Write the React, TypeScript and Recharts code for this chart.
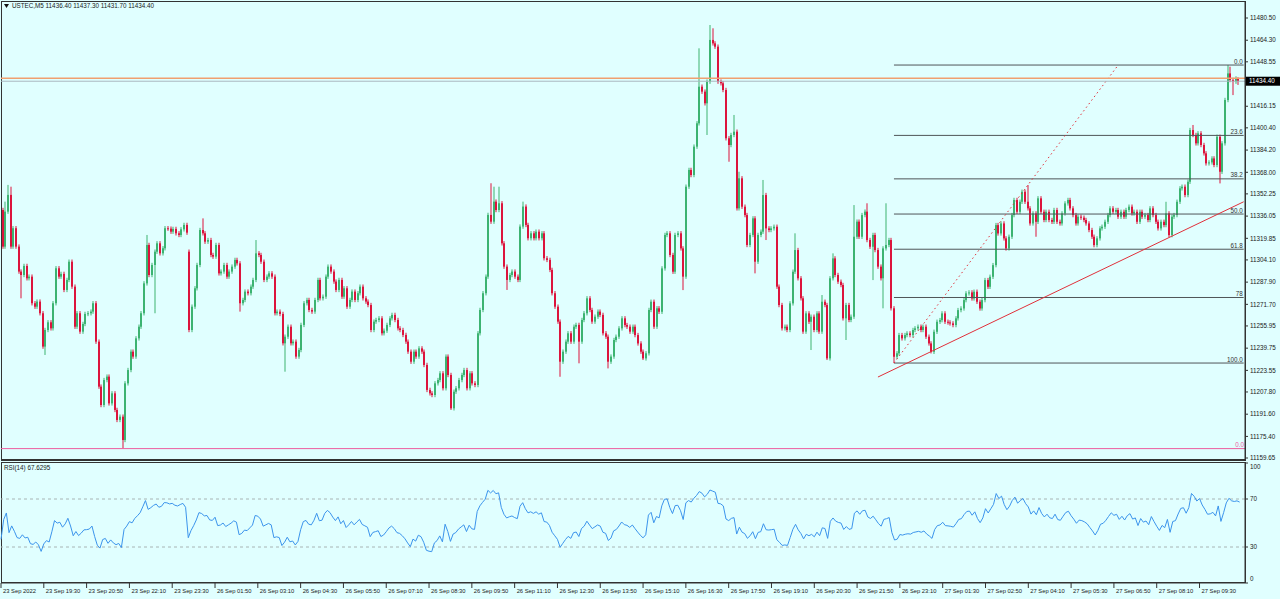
import React from 'react';
import { ComposedChart, Bar, XAxis, YAxis, ReferenceLine, LineChart, Line } from 'recharts';

// ---------- DATA ----------
const closes: number[] = [
  11313.8, 11339.3, 11351.5, 11313.8, 11327.2, 11313.8, 11295.6, 11293.1, 11299.7, 11290.7,
  11291.9, 11272.5, 11270.0, 11273.7, 11265.2, 11240.9, 11253.0, 11258.6, 11254.2, 11272.5,
  11298.0, 11291.9, 11293.9, 11282.2, 11289.5, 11302.8, 11284.6, 11255.4, 11265.2, 11251.8,
  11257.4, 11264.7, 11265.2, 11266.4, 11272.5, 11244.5, 11211.7, 11198.3, 11216.5, 11219.0,
  11199.5, 11206.8, 11194.7, 11187.4, 11189.8, 11172.8, 11214.1, 11223.8, 11237.2, 11233.6,
  11246.9, 11255.4, 11265.2, 11287.0, 11315.0, 11293.1, 11300.4, 11310.1, 11316.2, 11308.9,
  11312.6, 11327.2, 11326.9, 11324.7, 11326.7, 11323.5, 11322.3, 11326.4, 11329.6, 11324.0,
  11253.0, 11270.0, 11283.4, 11300.4, 11325.9, 11323.5, 11317.4, 11318.6, 11307.7, 11306.5,
  11315.0, 11294.3, 11295.6, 11300.4, 11291.9, 11295.6, 11299.2, 11304.1, 11301.6, 11272.5,
  11274.9, 11281.0, 11279.8, 11284.6, 11289.5, 11308.9, 11307.7, 11302.8, 11289.5, 11291.9,
  11294.3, 11291.9, 11265.2, 11266.4, 11264.7, 11243.3, 11248.1, 11255.4, 11243.3, 11244.5,
  11233.6, 11238.4, 11256.7, 11272.5, 11274.9, 11267.6, 11266.4, 11274.9, 11289.5, 11276.1,
  11277.3, 11291.9, 11299.2, 11295.6, 11288.3, 11282.2, 11289.5, 11277.3, 11283.4, 11270.0,
  11274.9, 11281.0, 11274.9, 11279.8, 11284.6, 11276.1, 11273.7, 11271.2, 11253.0, 11259.1,
  11260.3, 11261.5, 11250.6, 11252.5, 11256.7, 11261.5, 11264.0, 11260.3, 11254.2, 11253.0,
  11249.4, 11244.5, 11237.2, 11229.9, 11237.2, 11233.6, 11239.6, 11237.2, 11227.5, 11209.3,
  11206.8, 11205.6, 11214.1, 11216.5, 11221.4, 11210.5, 11233.6, 11220.2, 11195.9, 11208.0,
  11210.5, 11216.5, 11220.2, 11223.8, 11210.5, 11221.4, 11214.1, 11212.9, 11250.6, 11267.6,
  11279.8, 11291.9, 11336.9, 11332.0, 11346.6, 11340.5, 11345.4, 11316.2, 11299.2, 11289.5,
  11293.1, 11295.6, 11291.9, 11289.5, 11328.4, 11343.0, 11329.6, 11319.9, 11323.5, 11319.9,
  11324.7, 11319.9, 11323.5, 11305.3, 11304.1, 11296.8, 11279.8, 11270.0, 11259.1, 11229.9,
  11237.2, 11244.5, 11250.6, 11244.5, 11255.4, 11256.7, 11244.5, 11260.3, 11265.2, 11276.1,
  11267.6, 11259.1, 11262.7, 11266.4, 11264.0, 11250.6, 11248.1, 11229.9, 11233.6, 11245.7,
  11248.1, 11254.2, 11261.5, 11256.6, 11255.4, 11251.8, 11255.4, 11249.3, 11243.2, 11237.2,
  11232.3, 11236.0, 11267.6, 11273.6, 11255.4, 11268.8, 11266.3, 11297.9, 11322.3, 11323.5,
  11307.7, 11295.5, 11322.3, 11323.5, 11312.5, 11291.9, 11357.5, 11369.7, 11366.0, 11386.7,
  11403.7, 11430.4, 11426.8, 11418.3, 11434.1, 11464.5, 11462.0, 11459.6, 11434.1, 11432.9,
  11428.0, 11392.8, 11387.9, 11395.2, 11397.6, 11341.7, 11363.6, 11342.9, 11336.8, 11315.0,
  11322.3, 11334.4, 11302.8, 11322.3, 11324.7, 11351.4, 11327.1, 11325.9, 11327.1, 11328.3,
  11284.6, 11271.2, 11254.2, 11255.4, 11253.0, 11272.4, 11295.5, 11311.3, 11290.7, 11276.1,
  11251.8, 11265.1, 11259.0, 11262.7, 11253.0, 11265.1, 11251.8, 11273.6, 11271.2, 11232.3,
  11290.7, 11305.2, 11293.1, 11288.2, 11285.8, 11261.5, 11271.2, 11260.3, 11262.7, 11321.0,
  11332.0, 11321.0, 11336.8, 11339.3, 11318.6, 11313.7, 11322.3, 11311.3, 11299.2, 11290.7,
  11312.5, 11315.0, 11318.6, 11268.8, 11233.5, 11236.0, 11249.3, 11246.9, 11249.3, 11250.5,
  11249.3, 11253.0, 11254.2, 11255.4, 11253.0, 11255.4, 11248.1, 11243.2, 11237.1, 11251.7,
  11259.0, 11260.2, 11265.1, 11259.0, 11258.5, 11257.8, 11256.6, 11261.5, 11267.5, 11268.7,
  11274.8, 11279.7, 11280.4, 11276.0, 11280.9, 11273.6, 11268.7, 11274.8, 11289.4, 11284.5,
  11291.8, 11300.3, 11329.5, 11323.4, 11330.7, 11319.8, 11312.5, 11321.0, 11336.8, 11347.8,
  11339.2, 11346.5, 11353.8, 11346.5, 11341.7, 11330.7, 11338.0, 11331.9, 11349.0, 11339.2,
  11333.2, 11339.2, 11333.2, 11331.9, 11340.5, 11331.9, 11330.7, 11338.0, 11345.3, 11347.8,
  11341.7, 11336.8, 11330.7, 11335.6, 11334.9, 11333.2, 11330.7, 11325.9, 11321.0, 11314.9,
  11319.8, 11327.1, 11328.3, 11331.9, 11336.8, 11341.7, 11339.2, 11340.5, 11335.6, 11339.2,
  11335.6, 11340.5, 11342.9, 11338.0, 11339.2, 11331.9, 11339.2, 11335.6, 11336.8, 11333.2,
  11341.7, 11336.8, 11331.9, 11327.1, 11331.9, 11329.5, 11338.0, 11322.2, 11335.6, 11336.8,
  11346.5, 11356.3, 11357.5, 11351.4, 11361.1, 11398.8, 11395.2, 11389.1, 11396.4, 11387.9,
  11381.8, 11374.5, 11375.2, 11378.1, 11373.3, 11393.9, 11368.4, 11389.1, 11420.7, 11440.1,
  11435.3, 11434.1, 11436.4, 11434.4,
];
const firstOpen = 11340.5;
const openGaps: [number, number][] = [[70, 11310.1]];
const highMarks: [number, number][] = [
  [1, 11346.6], [2, 11358.8], [3, 11357.5], [54, 11322.3], [75, 11334.4], [95, 11318.6],
  [183, 11360.0], [184, 11357.5], [186, 11357.5], [195, 11346.6], [261, 11458.4], [265, 11475.4],
  [266, 11473.0], [274, 11409.8], [276, 11368.4], [285, 11362.4], [297, 11323.5], [307, 11278.5],
  [311, 11308.9], [319, 11344.1], [324, 11345.4], [331, 11345.4], [384, 11358.7], [436, 11346.5],
  [446, 11402.5], [459, 11446.2], [460, 11445.0], [463, 11437.3],
];
const lowMarks: [number, number][] = [
  [7, 11276.1], [16, 11234.8], [45, 11166.7], [57, 11265.2], [89, 11266.4], [106, 11222.6],
  [168, 11194.7], [189, 11282.2], [209, 11218.9], [216, 11228.7], [227, 11225.0], [240, 11231.1],
  [255, 11282.1], [264, 11395.2], [272, 11375.7], [282, 11294.3], [286, 11318.6], [303, 11238.4],
  [309, 11231.1], [316, 11245.7], [326, 11289.4], [330, 11268.8], [334, 11228.9], [348, 11235.9],
  [387, 11321.0], [456, 11359.9], [461, 11424.3], [463, 11431.7],
];
const WICK = 1.6;

// 11432.35 sits under the current-price box in the reference, so it is not drawn
const priceTicks = [
  11480.5, 11464.3, 11448.55, 11416.15, 11400.4, 11384.2, 11368.0, 11352.25, 11336.05,
  11319.85, 11304.1, 11287.9, 11271.7, 11255.95, 11239.75, 11223.55, 11207.8, 11191.6, 11175.4, 11159.65,
];
const timeLabels = [
  '23 Sep 2022', '23 Sep 19:30', '23 Sep 20:50', '23 Sep 22:10', '23 Sep 23:30', '26 Sep 01:50',
  '26 Sep 03:10', '26 Sep 04:30', '26 Sep 05:50', '26 Sep 07:10', '26 Sep 08:30', '26 Sep 09:50',
  '26 Sep 11:10', '26 Sep 12:30', '26 Sep 13:50', '26 Sep 15:10', '26 Sep 16:30', '26 Sep 17:50',
  '26 Sep 19:10', '26 Sep 20:30', '26 Sep 21:50', '26 Sep 23:10', '27 Sep 01:30', '27 Sep 02:50',
  '27 Sep 04:10', '27 Sep 05:30', '27 Sep 06:50', '27 Sep 08:10', '27 Sep 09:30',
];
const BARS_PER_LABEL = 16;
const fibLabels = ['0.0', '23.6', '38.2', '50.0', '61.8', '78', '100.0'];
const fibPrices = [11446.2, 11394.9, 11363.2, 11337.55, 11311.9, 11276.7, 11228.9];
const fibStartBar = 334;
const fibEndBar = 465;
const fibDiag: [number, number][] = [[334, 11228.9], [418, 11446.2]];
const trendLine: [number, number][] = [[328, 11218.7], [465, 11346.5]];
const lowLevel = 11166.5;
const userLevel = 11436.5;
const bidPrice = 11434.4;
const header = { symbol: 'USTEC,M5', o: '11436.40', h: '11437.30', l: '11431.70', c: '11434.40' };
const rsiText = 'RSI(14) 67.6295';
const rsiPeriod = 14;
const rsiSeed = { gain: 2.2, loss: 1.8 };
const rsiTicks = [0, 30, 70, 100];
const rsiLevels = [70, 30];

// ---------- DERIVED ----------
const N = closes.length;
const PAD_BARS = 2;
const opens = closes.map((c, i) => (i === 0 ? firstOpen : closes[i - 1]));
openGaps.forEach(([i, p]) => { opens[i] = p; });
const highMap = new Map(highMarks);
const lowMap = new Map(lowMarks);

const candleData: any[] = [];
for (let i = 0; i < N + PAD_BARS; i++) {
  if (i >= N) { candleData.push({ i }); continue; }
  const o = opens[i];
  const c = closes[i];
  const hi = Math.max(o, c, highMap.has(i) ? (highMap.get(i) as number) : Math.max(o, c) + WICK);
  const lo = Math.min(o, c, lowMap.has(i) ? (lowMap.get(i) as number) : Math.min(o, c) - WICK);
  candleData.push({ i, open: o, close: c, high: hi, low: lo, range: [lo, hi] });
}

const rsiValues: number[] = [];
{
  let ag = rsiSeed.gain;
  let al = rsiSeed.loss;
  for (let i = 0; i < N; i++) {
    const ch = i === 0 ? closes[0] - firstOpen : closes[i] - closes[i - 1];
    const g = ch > 0 ? ch : 0;
    const l = ch < 0 ? -ch : 0;
    ag = (ag * (rsiPeriod - 1) + g) / rsiPeriod;
    al = (al * (rsiPeriod - 1) + l) / rsiPeriod;
    rsiValues.push(al === 0 ? 100 : 100 - 100 / (1 + ag / al));
  }
}
const rsiData = candleData.map((d) => ({ i: d.i, rsi: d.i < N ? rsiValues[d.i] : null }));
const timeTickIdx = timeLabels.map((_, k) => k * BARS_PER_LABEL);

// ---------- STYLE ----------
const BG = '#E0FFFF';
const BULL = '#3CB371';
const BEAR = '#DC143C';
const FIB = '#4f5558';
const TREND = '#E0303A';
const PINK = '#EE5C9E';
const FRAME = '#333';
const TXT = '#1a1a1a';
const FONT = '"Liberation Sans", Arial, sans-serif';
const FS = 6.3;
const DOMAIN: [number, number] = [11158.2, 11492.9];

const Candle = (props: any) => {
  const { x, y, width, height, payload } = props;
  if (!payload || payload.high == null) return null;
  const yTop = height < 0 ? y + height : y;
  const h = Math.abs(height);
  const { open, close, high, low } = payload;
  const range = high - low;
  const yOf = (p: number) => yTop + (range === 0 ? 0 : ((high - p) / range) * h);
  const r = Math.round(x + width / 2);
  const color = close >= open ? BULL : BEAR;
  const top = yOf(Math.max(open, close));
  const bot = yOf(Math.min(open, close));
  return (
    <g>
      <rect x={r - 0.5} y={yTop} width={1} height={Math.max(h, 1)} fill={color} />
      <rect x={r - 1} y={top} width={2} height={Math.max(1, bot - top)} fill={color} />
    </g>
  );
};

const endLabel = (text: string, color: string) => (props: any) => {
  const vb = props.viewBox || {};
  return (
    <text x={vb.x + vb.width - 1} y={vb.y - 1.5} textAnchor="end" fontSize={FS} fill={color} fontFamily={FONT}>
      {text}
    </text>
  );
};

const bidLabel = (props: any) => {
  const vb = props.viewBox || {};
  const yy = vb.y;
  return (
    <g>
      <rect x={1246} y={yy - 4.5} width={34} height={9} fill="#000" />
      <text x={1249} y={yy + 2.2} fontSize={FS} fill="#fff" fontFamily={FONT}>{bidPrice.toFixed(2)}</text>
    </g>
  );
};

const TimeTick = (props: any) => {
  const { x, y, payload } = props;
  const label = timeLabels[Math.round(payload.value / BARS_PER_LABEL)];
  return (
    <g>
      <line x1={x} x2={x} y1={y} y2={y + 5} stroke={FRAME} strokeWidth={1} />
      <text x={x + 2} y={y + 10} fontSize={5.8} fill={TXT} fontFamily={FONT}>{label}</text>
    </g>
  );
};

const RsiTick = (props: any) => {
  const { x, y, payload } = props;
  const v = payload.value;
  const dy = v === 100 ? 4 : v === 0 ? -4 : 0;
  return (
    <text x={x} y={y + dy + 2} fontSize={FS} fill={TXT} fontFamily={FONT}>{v}</text>
  );
};

export default function App() {
  return (
    <div style={{ position: 'absolute', left: 0, top: 0, width: 1280, height: 599, background: BG, overflow: 'hidden', fontFamily: FONT }}>
      {/* panel frames */}
      <div style={{ position: 'absolute', left: 1, top: 1, width: 1245, height: 460, border: `1px solid ${FRAME}`, borderBottomWidth: 2, boxSizing: 'border-box' }} />
      <div style={{ position: 'absolute', left: 1, top: 462, width: 1245, height: 121, border: `1px solid ${FRAME}`, boxSizing: 'border-box' }} />

      <div style={{ position: 'absolute', left: 0, top: 0 }}>
        <ComposedChart width={1280} height={462} data={candleData} margin={{ top: 1, right: 0, left: 1, bottom: 2 }} barCategoryGap={0} barGap={0}>
          <XAxis dataKey="i" type="category" hide />
          <YAxis
            orientation="right"
            type="number"
            domain={DOMAIN}
            allowDataOverflow
            ticks={priceTicks}
            interval={0}
            width={35}
            tickSize={3}
            tickMargin={2}
            stroke={FRAME}
            tick={{ fontSize: FS, fill: TXT, fontFamily: FONT }}
            tickFormatter={(v: number) => v.toFixed(2)}
          />
          <ReferenceLine y={lowLevel} stroke={PINK} strokeWidth={1} label={endLabel('0.0', PINK)} />
          {fibPrices.map((p, k) => (
            <ReferenceLine
              key={'fib' + k}
              segment={[{ x: fibStartBar, y: p }, { x: fibEndBar, y: p }]}
              stroke={FIB}
              strokeWidth={1}
              label={endLabel(fibLabels[k], '#333')}
            />
          ))}
          <ReferenceLine
            segment={[{ x: fibDiag[0][0], y: fibDiag[0][1] }, { x: fibDiag[1][0], y: fibDiag[1][1] }]}
            stroke={TREND}
            strokeDasharray="1.5 3"
            strokeWidth={1}
          />
          <ReferenceLine
            segment={[{ x: trendLine[0][0], y: trendLine[0][1] }, { x: trendLine[1][0], y: trendLine[1][1] }]}
            stroke={TREND}
            strokeWidth={1}
          />
          <Bar dataKey="range" shape={Candle} isAnimationActive={false} />
          <ReferenceLine y={userLevel} stroke="#F0A070" strokeWidth={1.5} />
          <ReferenceLine y={bidPrice} stroke="#A9B8C0" strokeWidth={1} label={bidLabel} />
        </ComposedChart>
      </div>

      <div style={{ position: 'absolute', left: 0, top: 462 }}>
        <LineChart width={1280} height={137} data={rsiData} margin={{ top: 1, right: 0, left: 1, bottom: 0 }}>
          <XAxis
            dataKey="i"
            type="category"
            ticks={timeTickIdx}
            interval={0}
            height={16}
            tickLine={false}
            tickSize={0}
            tickMargin={0}
            stroke={FRAME}
            tick={TimeTick}
          />
          <YAxis
            orientation="right"
            type="number"
            domain={[0, 100]}
            ticks={rsiTicks}
            interval={0}
            width={35}
            tickSize={3}
            tickMargin={2}
            stroke={FRAME}
            tick={RsiTick}
          />
          {rsiLevels.map((v) => (
            <ReferenceLine key={'lv' + v} y={v} stroke="#a8b4b4" strokeDasharray="3 3" strokeWidth={1} />
          ))}
          <Line dataKey="rsi" type="linear" stroke="#3B94EC" strokeWidth={1} dot={false} isAnimationActive={false} connectNulls={false} />
        </LineChart>
      </div>

      <svg style={{ position: 'absolute', left: 0, top: 0 }} width={300} height={480}>
        <polygon points="4,4 9,4 6.5,8" fill="#111" />
        <text x={12} y={8.2} fontSize={FS} fill={TXT} fontFamily={FONT}>
          {`${header.symbol}  ${header.o} ${header.h} ${header.l} ${header.c}`}
        </text>
        <text x={4} y={470} fontSize={FS} fill={TXT} fontFamily={FONT}>{rsiText}</text>
      </svg>
    </div>
  );
}
